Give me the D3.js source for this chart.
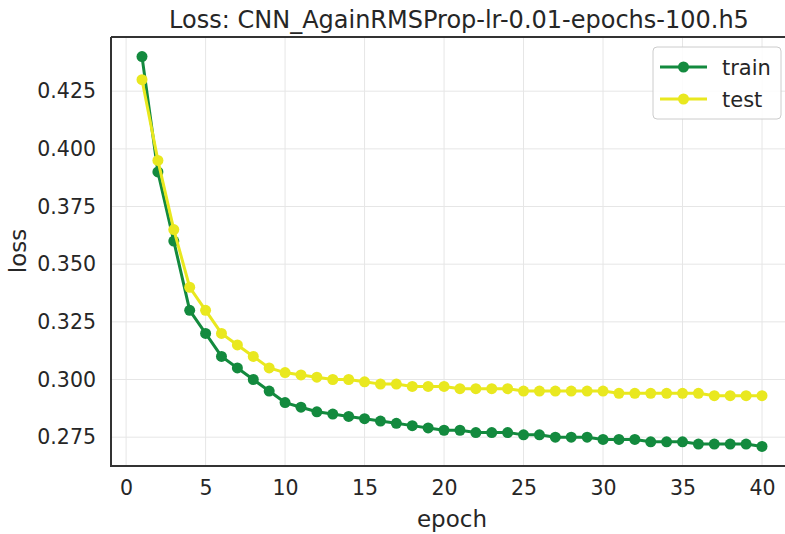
<!DOCTYPE html>
<html><head><meta charset="utf-8">
<script src="https://cdn.jsdelivr.net/npm/d3@7"></script>
<style>body{margin:0;background:#fff;} svg{display:block;font-family:"DejaVu Sans",sans-serif;}</style>
</head><body><div id="chart"></div>
<script>
const epochs = d3.range(1, 41);
const trainLoss = [0.44,0.39,0.36,0.33,0.32,0.31,0.305,0.30,0.295,0.29,0.288,0.286,0.285,0.284,0.283,0.282,0.281,0.280,0.279,0.278,0.278,0.277,0.277,0.277,0.276,0.276,0.275,0.275,0.275,0.274,0.274,0.274,0.273,0.273,0.273,0.272,0.272,0.272,0.272,0.271];
const testLoss = [0.43,0.395,0.365,0.34,0.33,0.32,0.315,0.31,0.305,0.303,0.302,0.301,0.300,0.300,0.299,0.298,0.298,0.297,0.297,0.297,0.296,0.296,0.296,0.296,0.295,0.295,0.295,0.295,0.295,0.295,0.294,0.294,0.294,0.294,0.294,0.294,0.293,0.293,0.293,0.293];
const xTicks = [0,5,10,15,20,25,30,35,40];
const yTicks = [0.275,0.300,0.325,0.350,0.375,0.400,0.425];
const seriesNames = ["train","test"];
const colors = ["#138a3e","#e9e81f"];
const titleText = "Loss: CNN_AgainRMSProp-lr-0.01-epochs-100.h5";

const W = 785, H = 534;
const L = 111, T = 37, R = 793, B = 466;
const svg = d3.select("#chart").append("svg").attr("width", W).attr("height", H);

const x = d3.scaleLinear().domain([-0.95, 41.95]).range([L, R]);
const y = d3.scaleLinear().domain([0.2625, 0.4485]).range([B, T]);

// grid
const g = svg.append("g");
g.selectAll(".vg").data(xTicks).enter().append("line")
  .attr("x1", d => x(d)).attr("x2", d => x(d)).attr("y1", T).attr("y2", B)
  .attr("stroke", "#e6e6e6").attr("stroke-width", 1);
g.selectAll(".hg").data(yTicks).enter().append("line")
  .attr("x1", L).attr("x2", R).attr("y1", d => y(d)).attr("y2", d => y(d))
  .attr("stroke", "#e6e6e6").attr("stroke-width", 1);

// axes (labels only)
const xAxis = svg.append("g").attr("transform", `translate(0,${B})`)
  .call(d3.axisBottom(x).tickValues(xTicks).tickSize(0).tickPadding(14).tickFormat(d3.format("d")));
const yAxis = svg.append("g").attr("transform", `translate(${L},0)`)
  .call(d3.axisLeft(y).tickValues(yTicks).tickSize(0).tickPadding(15).tickFormat(d3.format(".3f")));
[xAxis, yAxis].forEach(a => {
  a.select(".domain").remove();
  a.selectAll("text").attr("font-size", 20.5).attr("fill", "#262626").attr("font-family", "DejaVu Sans");
});

// series
const series = [trainLoss, testLoss];
series.forEach((vals, i) => {
  const pts = epochs.map((e, k) => [e, vals[k]]);
  svg.append("path").datum(pts)
    .attr("fill", "none").attr("stroke", colors[i]).attr("stroke-width", 3)
    .attr("d", d3.line().x(d => x(d[0])).y(d => y(d[1])));
  svg.selectAll(".pt" + i).data(pts).enter().append("circle")
    .attr("cx", d => x(d[0])).attr("cy", d => y(d[1])).attr("r", 5.5)
    .attr("fill", colors[i]);
});

// spines
svg.append("line").attr("x1", L).attr("x2", L).attr("y1", T).attr("y2", B+1).attr("stroke", "#333").attr("stroke-width", 2);
svg.append("line").attr("x1", L).attr("x2", W+5).attr("y1", B).attr("y2", B).attr("stroke", "#333").attr("stroke-width", 2);
svg.append("line").attr("x1", L).attr("x2", W+5).attr("y1", T).attr("y2", T).attr("stroke", "#333").attr("stroke-width", 2);
svg.append("line").attr("x1", R).attr("x2", R).attr("y1", T).attr("y2", B).attr("stroke", "#333").attr("stroke-width", 2);

// title and labels
svg.append("text").attr("x", 459).attr("y", 28).attr("text-anchor", "middle")
  .attr("font-size", 24).attr("fill", "#262626").text(titleText);
svg.append("text").attr("x", 452).attr("y", 527).attr("text-anchor", "middle")
  .attr("font-size", 23).attr("fill", "#262626").text("epoch");
svg.append("text").attr("transform", "translate(26,251) rotate(-90)").attr("text-anchor", "middle")
  .attr("font-size", 23).attr("fill", "#262626").text("loss");

// legend
const lg = svg.append("g");
lg.append("rect").attr("x", 653).attr("y", 47).attr("width", 128).attr("height", 72).attr("rx", 4)
  .attr("fill", "#fff").attr("fill-opacity", 0.85).attr("stroke", "#cccccc").attr("stroke-width", 1);
seriesNames.forEach((n, i) => {
  const yy = 67 + i * 32;
  lg.append("line").attr("x1", 660).attr("x2", 707).attr("y1", yy).attr("y2", yy).attr("stroke", colors[i]).attr("stroke-width", 3);
  lg.append("circle").attr("cx", 683.5).attr("cy", yy).attr("r", 5.5).attr("fill", colors[i]);
  lg.append("text").attr("x", 722).attr("y", yy + 7.5).attr("font-size", 21).attr("fill", "#262626").text(n);
});
</script></body></html>
